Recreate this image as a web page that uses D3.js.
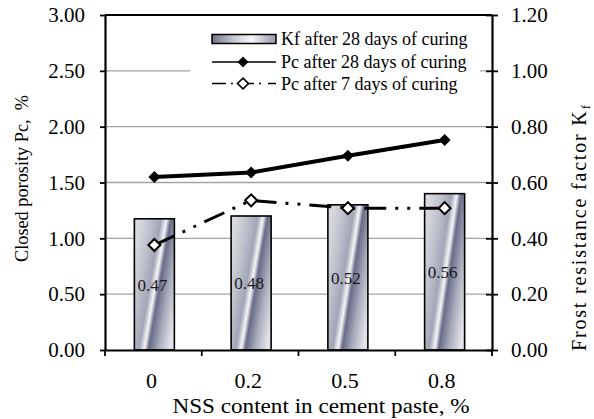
<!DOCTYPE html>
<html><head><meta charset="utf-8">
<script src="https://cdn.jsdelivr.net/npm/d3@7"></script>
<style>
body{margin:0;background:#fff}
svg{display:block}
text{font-family:"Liberation Serif","Times New Roman",serif;fill:#000}
</style>
</head><body><svg id="c" width="594" height="419"></svg>
<script>
const categories = ["0", "0.2", "0.5", "0.8"];
const kf28 = [0.47, 0.48, 0.52, 0.56];
const pc28 = [1.55, 1.59, 1.74, 1.88];
const pc7 = [0.94, 1.34, 1.27, 1.27];
const leftTicks = [0, 0.5, 1.0, 1.5, 2.0, 2.5, 3.0];
const rightTicks = [0, 0.2, 0.4, 0.6, 0.8, 1.0, 1.2];
const legendLabels = ["Kf after 28 days of curing", "Pc after 28 days of curing", "Pc after 7 days of curing"];
const xTitle = "NSS content in cement paste, %";
const yLeftTitle = "Closed porosity Pc,\u00a0 %";
const yRightTitle = "Frost resistance factor K";

const plot = {left: 105, right: 492, top: 15, bottom: 350};
const svg = d3.select("#c");

const x = d3.scaleBand().domain(categories).range([plot.left, plot.right]).padding(0);
const yL = d3.scaleLinear().domain([0, 3]).range([plot.bottom, plot.top]);
const yR = d3.scaleLinear().domain([0, 1.2]).range([plot.bottom, plot.top]);
const cx = c => x(c) + x.bandwidth() / 2 + 1;

// gradients
const defs = svg.append("defs");
const gBar = defs.append("linearGradient").attr("id", "barGrad")
  .attr("x1", 0).attr("y1", 0.22).attr("x2", 1).attr("y2", 0.78);
[[0, "#d9dae0"], [0.2, "#c2c4ce"], [0.42, "#a2a5b6"], [0.52, "#f6f6f8"], [0.6, "#686c87"], [0.78, "#a7aaba"], [1, "#e2e3e8"]]
  .forEach(s => gBar.append("stop").attr("offset", s[0]).attr("stop-color", s[1]));
const gLeg = defs.append("linearGradient").attr("id", "legGrad")
  .attr("x1", 0).attr("y1", 0).attr("x2", 1).attr("y2", 0);
[[0, "#70748b"], [0.35, "#c8cad3"], [0.62, "#f8f8f9"], [0.85, "#b9bbc6"], [1, "#9597a8"]]
  .forEach(s => gLeg.append("stop").attr("offset", s[0]).attr("stop-color", s[1]));

// gridlines
svg.append("g").selectAll("line").data(leftTicks.filter(t => t > 0 && t < 3)).join("line")
  .attr("x1", plot.left).attr("x2", plot.right)
  .attr("y1", d => yL(d)).attr("y2", d => yL(d))
  .attr("stroke", "#a3a3a3").attr("stroke-width", 1.3);

// bars
const barW = 40;
svg.append("g").selectAll("rect").data(kf28).join("rect")
  .attr("x", (d, i) => cx(categories[i]) - barW / 2)
  .attr("width", barW)
  .attr("y", d => yR(d))
  .attr("height", d => plot.bottom - yR(d))
  .attr("fill", "url(#barGrad)").attr("stroke", "#000").attr("stroke-width", 1.6);

// bar labels
svg.append("g").selectAll("text").data(kf28).join("text")
  .attr("x", (d, i) => cx(categories[i]) - 2)
  .attr("y", d => (yR(d) + plot.bottom) / 2)
  .attr("dy", "0.36em")
  .attr("text-anchor", "middle")
  .style("font-size", "17px").style("fill", "#1a1a1a")
  .text(d => d3.format(".2f")(d));

// legend
const lg = svg.append("g");
lg.append("rect").attr("x", 190).attr("y", 24).attr("width", 290).attr("height", 76).attr("fill", "#fff");
const rowY = [39, 62, 83.5];
lg.append("rect").attr("x", 212).attr("y", rowY[0] - 4.5).attr("width", 64).attr("height", 9)
  .attr("fill", "url(#legGrad)").attr("stroke", "#000").attr("stroke-width", 1.5);
lg.append("line").attr("x1", 212).attr("x2", 276).attr("y1", rowY[1]).attr("y2", rowY[1])
  .attr("stroke", "#000").attr("stroke-width", 1.6);
lg.append("line").attr("x1", 212).attr("x2", 276).attr("y1", rowY[2]).attr("y2", rowY[2])
  .attr("stroke", "#000").attr("stroke-width", 1.6).attr("stroke-dasharray", "14,5,2,7");
const diamond = d3.symbol().type(d3.symbolSquare).size(60);
lg.append("path").attr("d", diamond()).attr("transform", `translate(243,${rowY[1]}) rotate(45)`)
  .attr("fill", "#000");
lg.append("path").attr("d", diamond()).attr("transform", `translate(243,${rowY[2]}) rotate(45)`)
  .attr("fill", "#fff").attr("stroke", "#000").attr("stroke-width", 1.6);
lg.selectAll("text.lt").data(legendLabels).join("text").attr("class", "lt")
  .attr("x", 281).attr("y", (d, i) => rowY[i] + 6)
  .style("font-size", "18px").text(d => d);

// lines
const line = d3.line().x((d, i) => cx(categories[i])).y(d => yL(d));
svg.append("path").datum(pc7).attr("d", line).attr("fill", "none")
  .attr("stroke", "#000").attr("stroke-width", 3).attr("stroke-dasharray", "22,9,3,9,3,9");
svg.append("path").datum(pc28).attr("d", line).attr("fill", "none")
  .attr("stroke", "#000").attr("stroke-width", 4);
const mk = d3.symbol().type(d3.symbolSquare).size(72);
svg.append("g").selectAll("path").data(pc28).join("path")
  .attr("d", mk()).attr("transform", (d, i) => `translate(${cx(categories[i])},${yL(d)}) rotate(45)`)
  .attr("fill", "#000");
svg.append("g").selectAll("path").data(pc7).join("path")
  .attr("d", mk()).attr("transform", (d, i) => `translate(${cx(categories[i])},${yL(d)}) rotate(45)`)
  .attr("fill", "#fff").attr("stroke", "#000").attr("stroke-width", 2);

// axes
const axL = svg.append("g").attr("transform", `translate(${plot.left},0)`)
  .call(d3.axisLeft(yL).tickValues(leftTicks).tickSizeInner(5).tickSizeOuter(0).tickPadding(15).tickFormat(d3.format(".2f")));
const axR = svg.append("g").attr("transform", `translate(${plot.right},0)`)
  .call(d3.axisRight(yR).tickValues(rightTicks).tickSizeInner(6).tickSizeOuter(0).tickPadding(13).tickFormat(d3.format(".2f")));
axR.selectAll(".tick line").attr("x1", -6);
const axB = svg.append("g").attr("transform", `translate(0,${plot.bottom})`)
  .call(d3.axisBottom(x).tickSize(0).tickPadding(22));
axB.selectAll(".tick text").attr("x", -2).style("font-size", "22px");
[axL, axR].forEach(a => a.selectAll(".tick text").style("font-size", "21px"));
[axL, axR, axB].forEach(a => {
  a.select(".domain").attr("stroke", "#000").attr("stroke-width", 2.2);
  a.selectAll(".tick line").attr("stroke", "#000").attr("stroke-width", 1.8);
  a.attr("font-family", null).attr("font-size", null);
});
// category boundary ticks
const bounds = categories.map(c => x(c)).concat([x.range()[1]]);
svg.append("g").selectAll("line").data(bounds).join("line")
  .attr("x1", d => d).attr("x2", d => d).attr("y1", plot.bottom).attr("y2", plot.bottom + 6)
  .attr("stroke", "#000").attr("stroke-width", 1.8);
// top border
svg.append("line").attr("x1", plot.left).attr("x2", plot.right).attr("y1", plot.top).attr("y2", plot.top)
  .attr("stroke", "#000").attr("stroke-width", 2.2);

// titles
svg.append("text").attr("x", 321).attr("y", 413).attr("text-anchor", "middle")
  .style("font-size", "21px").attr("textLength", 297).attr("lengthAdjust", "spacingAndGlyphs").text(xTitle);
svg.append("text").attr("transform", "translate(28,178.5) rotate(-90)").attr("text-anchor", "middle")
  .style("font-size", "18.5px").attr("textLength", 167).attr("lengthAdjust", "spacingAndGlyphs").text(yLeftTitle);
const rt = svg.append("text").attr("transform", "translate(586,228) rotate(-90)").attr("text-anchor", "middle")
  .style("font-size", "20px").attr("textLength", 246).attr("lengthAdjust", "spacing");
rt.append("tspan").text(yRightTitle);
rt.append("tspan").attr("dy", 4).style("font-size", "13px").text("f");
</script></body></html>
